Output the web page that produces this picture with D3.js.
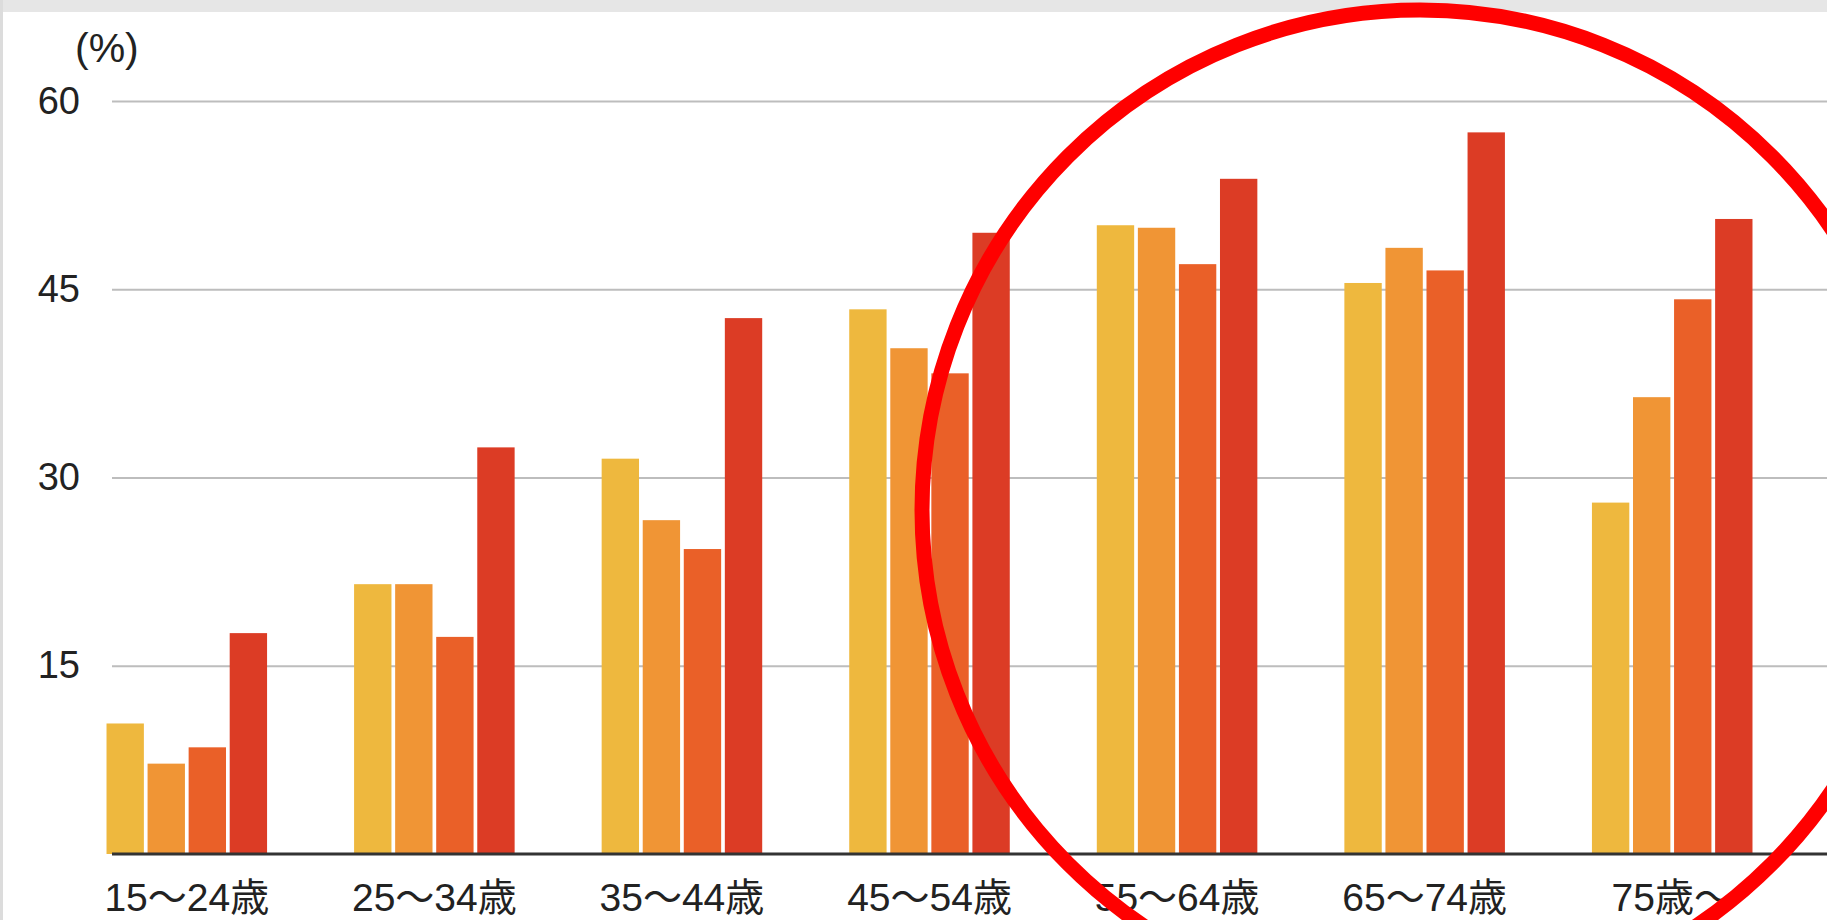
<!DOCTYPE html>
<html>
<head>
<meta charset="utf-8">
<script src="https://cdn.jsdelivr.net/npm/d3@7"></script>
<style>
  body { margin: 0; background: #fff; }
  text { font-family: "Liberation Sans", "Noto Sans CJK JP", sans-serif; fill: #222; }
</style>
</head>
<body>
<div id="chart"></div>
<script>
var svgWidth = 1827;
var svgHeight = 920;

// age groups on the x axis
var ageGroups = ["15～24歳", "25～34歳", "35～44歳", "45～54歳", "55～64歳", "65～74歳", "75歳～"];
// four series per age group (%)
var seriesNames = ["s1", "s2", "s3", "s4"];
var series1 = [10.4, 21.5, 31.5, 43.4, 50.1, 45.5, 28.0];
var series2 = [7.2, 21.5, 26.6, 40.3, 49.9, 48.3, 36.4];
var series3 = [8.5, 17.3, 24.3, 38.3, 47.0, 46.5, 44.2];
var series4 = [17.6, 32.4, 42.7, 49.5, 53.8, 57.5, 50.6];
var yTicks = [15, 30, 45, 60];

var colors = ["#eeb83e", "#f09535", "#ea6028", "#dc3c25"];

var svg = d3.select("#chart")
  .append("svg")
  .attr("width", svgWidth)
  .attr("height", svgHeight);

// faint screenshot edges
svg.append("rect").attr("x", 0).attr("y", 0).attr("width", svgWidth).attr("height", 12).attr("fill", "#e6e6e6");
svg.append("rect").attr("x", 0).attr("y", 0).attr("width", 3).attr("height", svgHeight).attr("fill", "#dcdcdc");

var plotLeft = 112;
var yScale = d3.scaleLinear()
  .domain([0, 60])
  .range([854, 101]);

var xScale = d3.scaleBand()
  .domain(ageGroups)
  .range([63, 1796])
  .paddingInner(0.3515)
  .paddingOuter(0.17575);

var xSub = d3.scaleBand()
  .domain(seriesNames)
  .range([0, xScale.bandwidth()])
  .paddingInner(0.09);

// gridlines + y labels
var yAxis = svg.append("g")
  .attr("transform", `translate(${plotLeft}, 0)`)
  .call(d3.axisLeft(yScale).tickValues(yTicks).tickSize(-(svgWidth - plotLeft)));

yAxis.select(".domain").remove();
yAxis.selectAll(".tick line").attr("stroke", "#bdbdbd").attr("stroke-width", 2);
yAxis.selectAll(".tick text")
  .attr("x", 80 - plotLeft)
  .style("font-size", "38px")
  .style("fill", "#222");

svg.append("text")
  .attr("x", 75)
  .attr("y", 62)
  .style("font-size", "41px")
  .text("(%)");

// bars
var table = ageGroups.map(function(g, i) {
  return { group: g, values: [series1[i], series2[i], series3[i], series4[i]] };
});

var groups = svg.append("g").selectAll("g")
  .data(table)
  .enter()
  .append("g")
  .attr("transform", d => `translate(${xScale(d.group)}, 0)`);

groups.selectAll("rect")
  .data(d => d.values.map((v, j) => ({ key: seriesNames[j], value: v, idx: j })))
  .enter()
  .append("rect")
  .attr("x", d => xSub(d.key))
  .attr("y", d => yScale(d.value))
  .attr("width", xSub.bandwidth())
  .attr("height", d => yScale(0) - yScale(d.value))
  .attr("fill", d => colors[d.idx]);

// baseline + x labels
var xAxis = svg.append("g")
  .attr("transform", `translate(0, ${yScale(0)})`)
  .call(d3.axisBottom(xScale).tickSize(0).tickPadding(0));

xAxis.select(".domain").remove();
xAxis.selectAll(".tick text")
  .attr("dy", null)
  .attr("y", 57)
  .style("font-size", "39px")
  .style("fill", "#222");

svg.append("line")
  .attr("x1", plotLeft)
  .attr("x2", svgWidth)
  .attr("y1", yScale(0))
  .attr("y2", yScale(0))
  .attr("stroke", "#333")
  .attr("stroke-width", 3);

// red hand-drawn circle annotation
svg.append("ellipse")
  .attr("cx", 1420)
  .attr("cy", 510)
  .attr("rx", 498)
  .attr("ry", 500)
  .attr("fill", "none")
  .attr("stroke", "#ff0000")
  .attr("stroke-width", 15);
</script>
</body>
</html>
